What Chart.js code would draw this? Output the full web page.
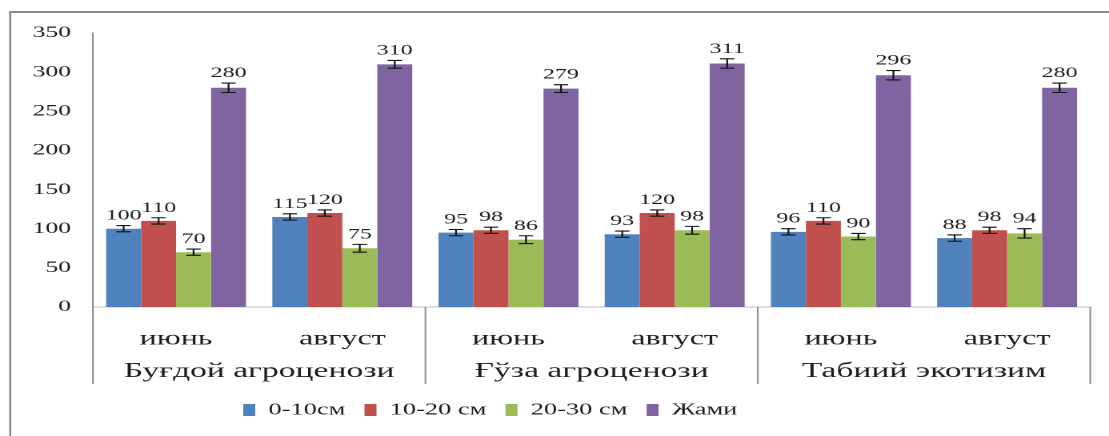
<!DOCTYPE html>
<html>
<head>
<meta charset="utf-8">
<script src="https://cdn.jsdelivr.net/npm/chart.js@4.4.1/dist/chart.umd.min.js"></script>
<style>
  html, body { margin: 0; padding: 0; background: #fff; overflow: hidden; }
  /* the reference picture is stretched sideways, so the chart is drawn narrow and widened */
  #wrap { position: absolute; left: 0; top: 0; width: 693px; height: 436px;
          transform: scaleX(1.6003); transform-origin: 0 0; }
</style>
</head>
<body>
<div id="wrap"><canvas id="chart" width="693" height="436"></canvas></div>
<script>
const months = ['июнь', 'август', 'июнь', 'август', 'июнь', 'август'];
const groups = ['Буғдой агроценози', 'Ғўза агроценози', 'Табиий экотизим'];
const seriesNames = ['0-10см', '10-20 см', '20-30 см', 'Жами'];

const depth0_10  = [100, 115, 95, 93, 96, 88];
const depth10_20 = [110, 120, 98, 120, 110, 98];
const depth20_30 = [70, 75, 86, 98, 90, 94];
const total      = [280, 310, 279, 311, 296, 280];

// error bar half-heights
const err0_10  = [4, 4, 4, 4, 4, 4];
const err10_20 = [4, 4, 4, 4, 4, 4];
const err20_30 = [4, 5, 5, 5, 4, 6];
const errTotal = [6, 5, 5, 6, 6, 6];

const yTicks = { min: 0, max: 350, step: 50 };

const COLORS = ['#4f81bd', '#c0504d', '#9bbb59', '#8064a2'];
const SERIF = "'Liberation Serif', 'Times New Roman', serif";
const TEXT = '#1e1e1e';

const values = [depth0_10, depth10_20, depth20_30, total];
const errors = [err0_10, err10_20, err20_30, errTotal];

const extras = {
    id: 'extras',
    beforeDraw(chart) {
        const ctx = chart.ctx;
        ctx.save();
        ctx.fillStyle = '#8c8c8c';
        ctx.fillRect(5.7, 11, 1.3, 440);   // outer frame, left
        ctx.fillRect(5.7, 11, 700, 2);     // outer frame, top
        ctx.restore();
        // legend starts left of centre in the reference
        const lg = chart.legend;
        const w = lg.right - lg.left;
        lg.left = 152 - lg.options.labels.padding;
        lg.right = lg.left + w;
    },
    afterDatasetsDraw(chart) {
        const ctx = chart.ctx;
        const y = chart.scales.y;
        ctx.save();
        chart.data.datasets.forEach((ds, di) => {
            const meta = chart.getDatasetMeta(di);
            meta.data.forEach((bar, i) => {
                const v = ds.data[i];
                const e = errors[di][i];
                const top = y.getPixelForValue(v + e);
                const bot = y.getPixelForValue(v - e);
                ctx.strokeStyle = '#111';
                ctx.lineWidth = 1.1;
                ctx.beginPath();
                ctx.moveTo(bar.x, top); ctx.lineTo(bar.x, bot);
                ctx.moveTo(bar.x - 4.5, top); ctx.lineTo(bar.x + 4.5, top);
                ctx.moveTo(bar.x - 4.5, bot); ctx.lineTo(bar.x + 4.5, bot);
                ctx.stroke();
                ctx.fillStyle = TEXT;
                ctx.font = '15px ' + SERIF;
                ctx.textAlign = 'center';
                ctx.textBaseline = 'alphabetic';
                ctx.fillText(String(v), bar.x, top - 6);
            });
        });
        ctx.restore();
    },
    afterDraw(chart) {
        const ctx = chart.ctx;
        const x = chart.scales.x;
        const bottom = chart.chartArea.bottom;
        const span = (x.right - x.left) / groups.length;
        ctx.save();
        ctx.strokeStyle = '#8c8c8c';
        ctx.lineWidth = 1;
        for (let g = 0; g <= groups.length; g++) {
            const px = x.left + g * span;
            ctx.beginPath();
            ctx.moveTo(px, bottom);
            ctx.lineTo(px, 384);
            ctx.stroke();
        }
        ctx.fillStyle = TEXT;
        ctx.font = '21px ' + SERIF;
        ctx.textAlign = 'center';
        ctx.textBaseline = 'alphabetic';
        groups.forEach((name, g) => {
            const cx = (x.getPixelForValue(2 * g) + x.getPixelForValue(2 * g + 1)) / 2;
            ctx.fillText(name, cx, 377);
        });
        ctx.restore();
    }
};

new Chart(document.getElementById('chart'), {
    type: 'bar',
    data: {
        labels: months,
        datasets: seriesNames.map((name, i) => ({
            label: name,
            data: values[i],
            backgroundColor: COLORS[i],
            borderWidth: 0
        }))
    },
    options: {
        responsive: false,
        animation: false,
        devicePixelRatio: 2,
        layout: { padding: { left: 0, right: 11.75, top: 33, bottom: 7.75 } },
        datasets: { bar: { barPercentage: 1, categoryPercentage: 0.842 } },
        scales: {
            x: {
                grid: { display: false, drawTicks: false },
                border: { display: true, color: '#bfbfbf', width: 1 },
                ticks: { font: { family: SERIF, size: 20 }, color: TEXT, padding: 20 },
                afterFit: s => { s.height = 82.75; }
            },
            y: {
                min: yTicks.min,
                max: yTicks.max,
                grid: { display: false, drawTicks: false },
                border: { display: true, color: '#8c8c8c', width: 1 },
                ticks: { stepSize: yTicks.step, font: { family: SERIF, size: 16 }, color: TEXT, padding: 13.7 },
                afterFit: s => { s.width = 58.1; }
            }
        },
        plugins: {
            tooltip: { enabled: false },
            legend: {
                position: 'bottom',
                align: 'start',
                labels: {
                    font: { family: SERIF, size: 16.5 },
                    color: TEXT,
                    boxWidth: 7.5,
                    boxHeight: 12,
                    padding: 12
                }
            }
        }
    },
    plugins: [extras]
});
</script>
</body>
</html>
